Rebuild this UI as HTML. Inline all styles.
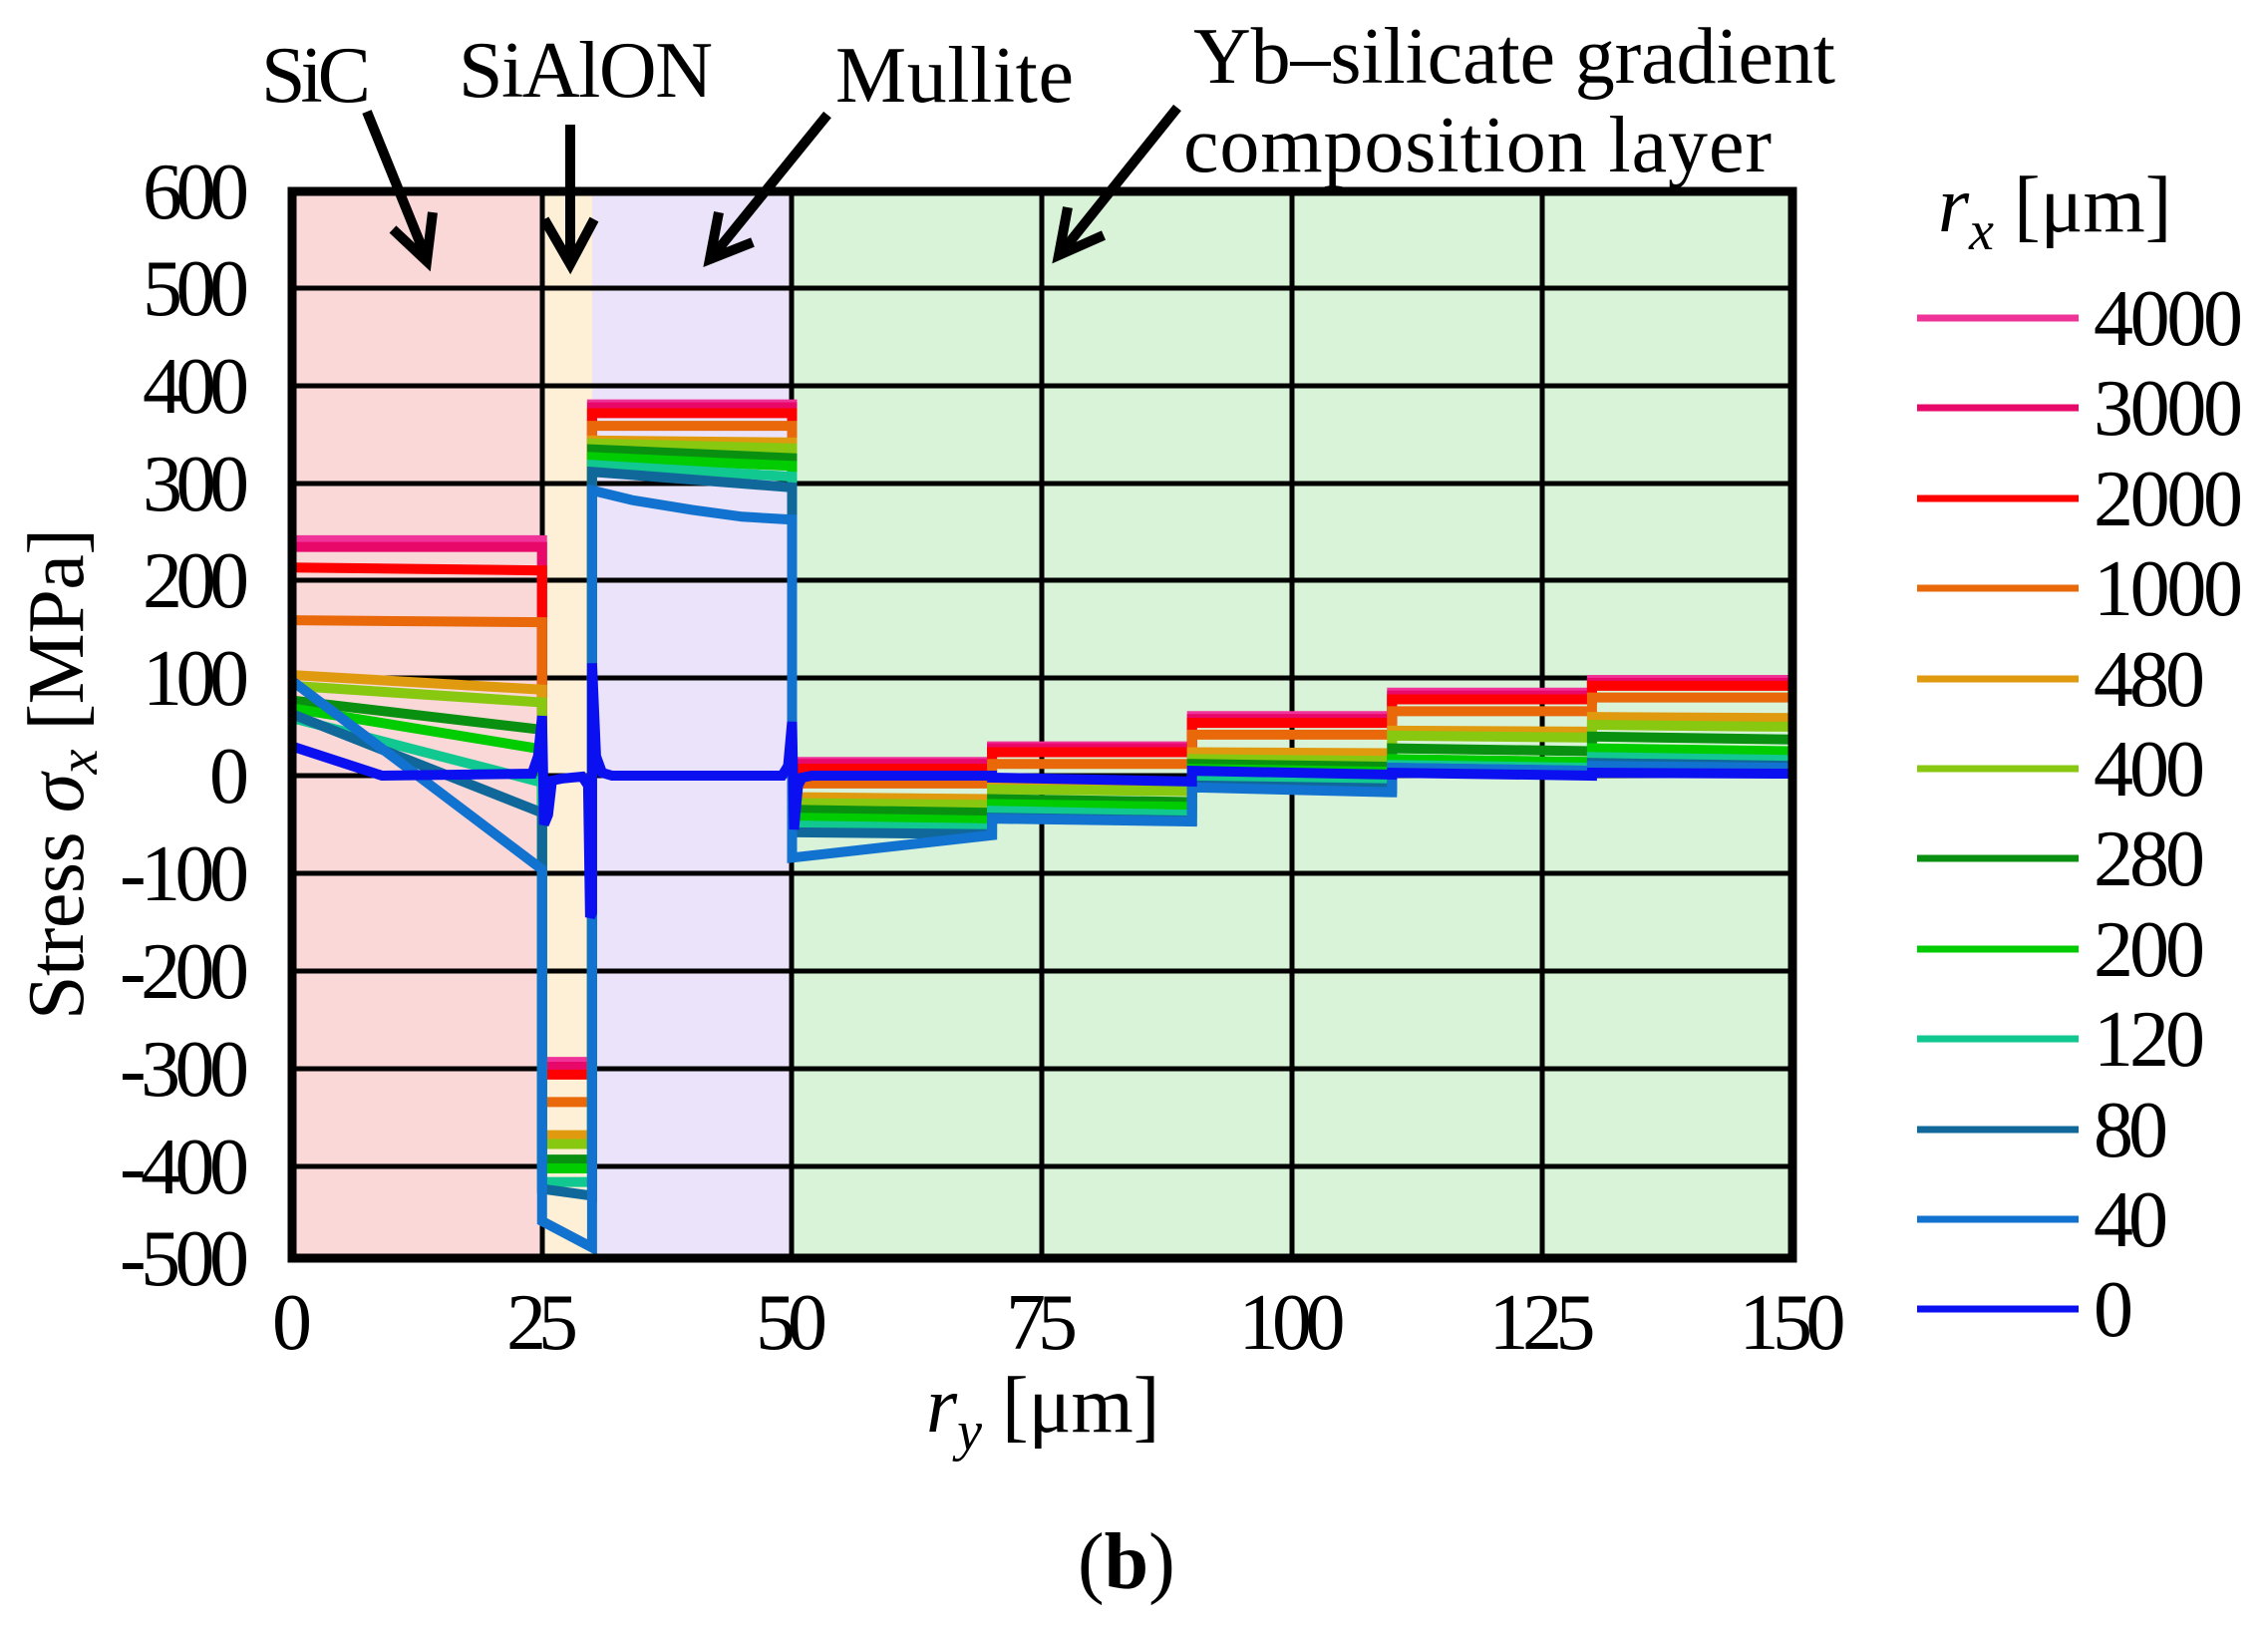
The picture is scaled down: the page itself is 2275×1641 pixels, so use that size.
<!DOCTYPE html>
<html><head><meta charset="utf-8"><style>
html,body{margin:0;padding:0;background:#fff}
svg{display:block}
text{font-family:"Liberation Serif",serif;fill:#000}
</style></head><body>
<svg width="2275" height="1641" viewBox="0 0 2275 1641" xmlns="http://www.w3.org/2000/svg">
<rect x="293" y="192" width="251" height="1070" fill="#fad8d8"/>
<rect x="544" y="192" width="50" height="1070" fill="#fdf0d6"/>
<rect x="594" y="192" width="200" height="1070" fill="#ebe3f9"/>
<rect x="794" y="192" width="1004" height="1070" fill="#d9f3d9"/>
<g stroke="#000" stroke-width="5">
<line x1="293" x2="1798" y1="289" y2="289"/><line x1="293" x2="1798" y1="387" y2="387"/>
<line x1="293" x2="1798" y1="485" y2="485"/><line x1="293" x2="1798" y1="582" y2="582"/>
<line x1="293" x2="1798" y1="680" y2="680"/><line x1="293" x2="1798" y1="778" y2="778"/>
<line x1="293" x2="1798" y1="876" y2="876"/><line x1="293" x2="1798" y1="974" y2="974"/>
<line x1="293" x2="1798" y1="1072" y2="1072"/><line x1="293" x2="1798" y1="1170" y2="1170"/>
<line y1="192" y2="1262" x1="544" x2="544"/><line y1="192" y2="1262" x1="794" x2="794"/>
<line y1="192" y2="1262" x1="1045" x2="1045"/><line y1="192" y2="1262" x1="1296" x2="1296"/>
<line y1="192" y2="1262" x1="1547" x2="1547"/>
</g>
<g transform="translate(293,778) scale(10.03,-0.98)" fill="none" stroke-width="10" stroke-linejoin="miter">
<polyline vector-effect="non-scaling-stroke" stroke="#ef3399" points="0,241 25,241 25,-293 30,-293 30,380 50,380 50,14 70,14 70,30 90,30 90,61 110,61 110,85 130,85 130,98 150,98"/>
<polyline vector-effect="non-scaling-stroke" stroke="#e8086a" points="0,234 25,234 25,-298 30,-298 30,377 50,377 50,12 70,12 70,28 90,28 90,58 110,58 110,82 130,82 130,95 150,95"/>
<polyline vector-effect="non-scaling-stroke" stroke="#ff0000" points="0,213 25,210 25,-306 30,-306 30,371 50,371 50,7 70,7 70,24 90,24 90,54 110,54 110,78 130,78 130,92 150,92"/>
<polyline vector-effect="non-scaling-stroke" stroke="#e8680a" points="0,159 25,157 25,-334 30,-334 30,358 50,358 50,-8 70,-8 70,12 90,12 90,42 110,42 110,66 130,66 130,80 150,80"/>
<polyline vector-effect="non-scaling-stroke" stroke="#e09a10" points="0,103 25,88 25,-368 30,-368 30,343 50,341 50,-22 70,-24 70,-9 90,-10 90,24 110,23 110,46 130,45 130,60 150,59"/>
<polyline vector-effect="non-scaling-stroke" stroke="#88c810" points="0,92 25,75 25,-377 30,-377 30,340 50,335 50,-28 70,-30 70,-14 90,-16 90,17 110,15 110,41 130,39 130,52 150,50"/>
<polyline vector-effect="non-scaling-stroke" stroke="#0a9010" points="0,77 25,47 25,-393 30,-393 30,334 50,325 50,-35 70,-38 70,-24 90,-27 90,12 110,9 110,28 130,25 130,40 150,37"/>
<polyline vector-effect="non-scaling-stroke" stroke="#00cc00" points="0,69 25,27 25,-402 30,-402 30,326 50,317 50,-43 70,-46 70,-29 90,-32 90,7 110,4 110,17 130,14 130,28 150,25"/>
<polyline vector-effect="non-scaling-stroke" stroke="#10c890" points="0,59 25,-7 25,-416 30,-416 30,318 50,306 50,-51 70,-54 70,-36 90,-40 90,-5 110,-8 110,11 130,8 130,19 150,16"/>
<polyline vector-effect="non-scaling-stroke" stroke="#10689a" points="0,63 25,-38 25,-423 30,-430 30,311 50,295 50,-58 70,-60 70,-43 90,-46 90,-10 110,-13 110,8 130,5 130,13 150,10"/>
<polyline vector-effect="non-scaling-stroke" stroke="#1272d0" points="0,97 25,-96 25,-456 30,-483 30,292 34,282 40,272 45,265 50,262 50,-84 70,-61 70,-44 90,-47 90,-12 110,-17 110,8 130,5 130,10 150,8"/>
<polyline vector-effect="non-scaling-stroke" stroke="#0a10f0" points="0,30 9,0 24,2 24.6,20 25,61 25.2,-50 25.6,-40 26,-5 27,-3 28,-2 29,-1 29.6,-10 29.8,-145 30,-140 30,115 30.4,20 31,3 32,0 49,0 49.6,10 50,55 50.2,-55 50.6,-10 51,-2 52,0 70,0 70,-2 90,-6 90,5 110,1 110,3 130,0 130,3 150,2"/>
</g>
<rect x="293" y="192" width="1505" height="1070" fill="none" stroke="#000" stroke-width="9"/>
<g font-size="80" text-anchor="end">
<text x="250" y="219" textLength="107">600</text><text x="250" y="316" textLength="107">500</text>
<text x="250" y="414" textLength="107">400</text><text x="250" y="512" textLength="107">300</text>
<text x="250" y="609" textLength="107">200</text><text x="250" y="707" textLength="107">100</text>
<text x="250" y="805">0</text>
<text x="250" y="903" textLength="130">-100</text><text x="250" y="1001" textLength="130">-200</text>
<text x="250" y="1099" textLength="130">-300</text><text x="250" y="1197" textLength="130">-400</text>
<text x="250" y="1289" textLength="130">-500</text>
</g>
<g font-size="80" text-anchor="middle">
<text x="293" y="1353">0</text>
<text x="544" y="1353" textLength="72">25</text><text x="794" y="1353" textLength="72">50</text>
<text x="1045" y="1353" textLength="72">75</text><text x="1296" y="1353" textLength="107">100</text>
<text x="1547" y="1353" textLength="107">125</text><text x="1798" y="1353" textLength="107">150</text>
</g>
<text font-size="80" transform="translate(83,1023) rotate(-90)" textLength="493">Stress <tspan font-style="italic">σ</tspan><tspan font-style="italic" font-size="56" dy="14">x</tspan><tspan dy="-14"> [MPa]</tspan></text>
<text font-size="80" x="929" y="1436"><tspan font-style="italic">r</tspan><tspan font-style="italic" font-size="56" dy="18">y</tspan><tspan dy="-18"> [μm]</tspan></text>
<text font-size="80" x="1081" y="1593">(<tspan font-weight="bold">b</tspan>)</text>
<g font-size="80">
<text x="262" y="102" textLength="110">SiC</text>
<text x="460" y="97" textLength="255">SiAlON</text>
<text x="838" y="102" textLength="239">Mullite</text>
<text x="1197" y="83" textLength="644">Yb–silicate gradient</text>
<text x="1187" y="172" textLength="590">composition layer</text>
</g>
<g stroke="#000" stroke-width="10" fill="none" stroke-linecap="butt">
<line x1="368" y1="112" x2="428" y2="260"/><polyline points="394,230 428,262 434,213"/>
<line x1="572" y1="125" x2="572" y2="262"/><polyline points="546,220 572,265 596,220"/>
<line x1="830" y1="115" x2="714" y2="258"/><polyline points="721,213 712,260 755,243"/>
<line x1="1181" y1="108" x2="1064" y2="254"/><polyline points="1071,208 1062,256 1107,236"/>
</g>
<text font-size="80" x="1944" y="232"><tspan font-style="italic">r</tspan><tspan font-style="italic" font-size="56" dy="18">x</tspan><tspan dy="-18"> [μm]</tspan></text>
<g stroke-width="7">
<line x1="1923" x2="2085" y1="319" y2="319" stroke="#ef3399"/>
<line x1="1923" x2="2085" y1="409" y2="409" stroke="#e8086a"/>
<line x1="1923" x2="2085" y1="500" y2="500" stroke="#ff0000"/>
<line x1="1923" x2="2085" y1="590" y2="590" stroke="#e8680a"/>
<line x1="1923" x2="2085" y1="681" y2="681" stroke="#e09a10"/>
<line x1="1923" x2="2085" y1="771" y2="771" stroke="#88c810"/>
<line x1="1923" x2="2085" y1="861" y2="861" stroke="#0a9010"/>
<line x1="1923" x2="2085" y1="952" y2="952" stroke="#00cc00"/>
<line x1="1923" x2="2085" y1="1042" y2="1042" stroke="#10c890"/>
<line x1="1923" x2="2085" y1="1133" y2="1133" stroke="#10689a"/>
<line x1="1923" x2="2085" y1="1223" y2="1223" stroke="#1272d0"/>
<line x1="1923" x2="2085" y1="1313" y2="1313" stroke="#0a10f0"/>
</g>
<g font-size="80">
<text x="2100" y="346" textLength="150">4000</text>
<text x="2100" y="436" textLength="150">3000</text>
<text x="2100" y="527" textLength="150">2000</text>
<text x="2100" y="617" textLength="150">1000</text>
<text x="2100" y="708" textLength="112">480</text>
<text x="2100" y="798" textLength="112">400</text>
<text x="2100" y="888" textLength="112">280</text>
<text x="2100" y="979" textLength="112">200</text>
<text x="2100" y="1069" textLength="112">120</text>
<text x="2100" y="1160" textLength="75">80</text>
<text x="2100" y="1250" textLength="75">40</text>
<text x="2100" y="1340">0</text>
</g>
</svg>
</body></html>
